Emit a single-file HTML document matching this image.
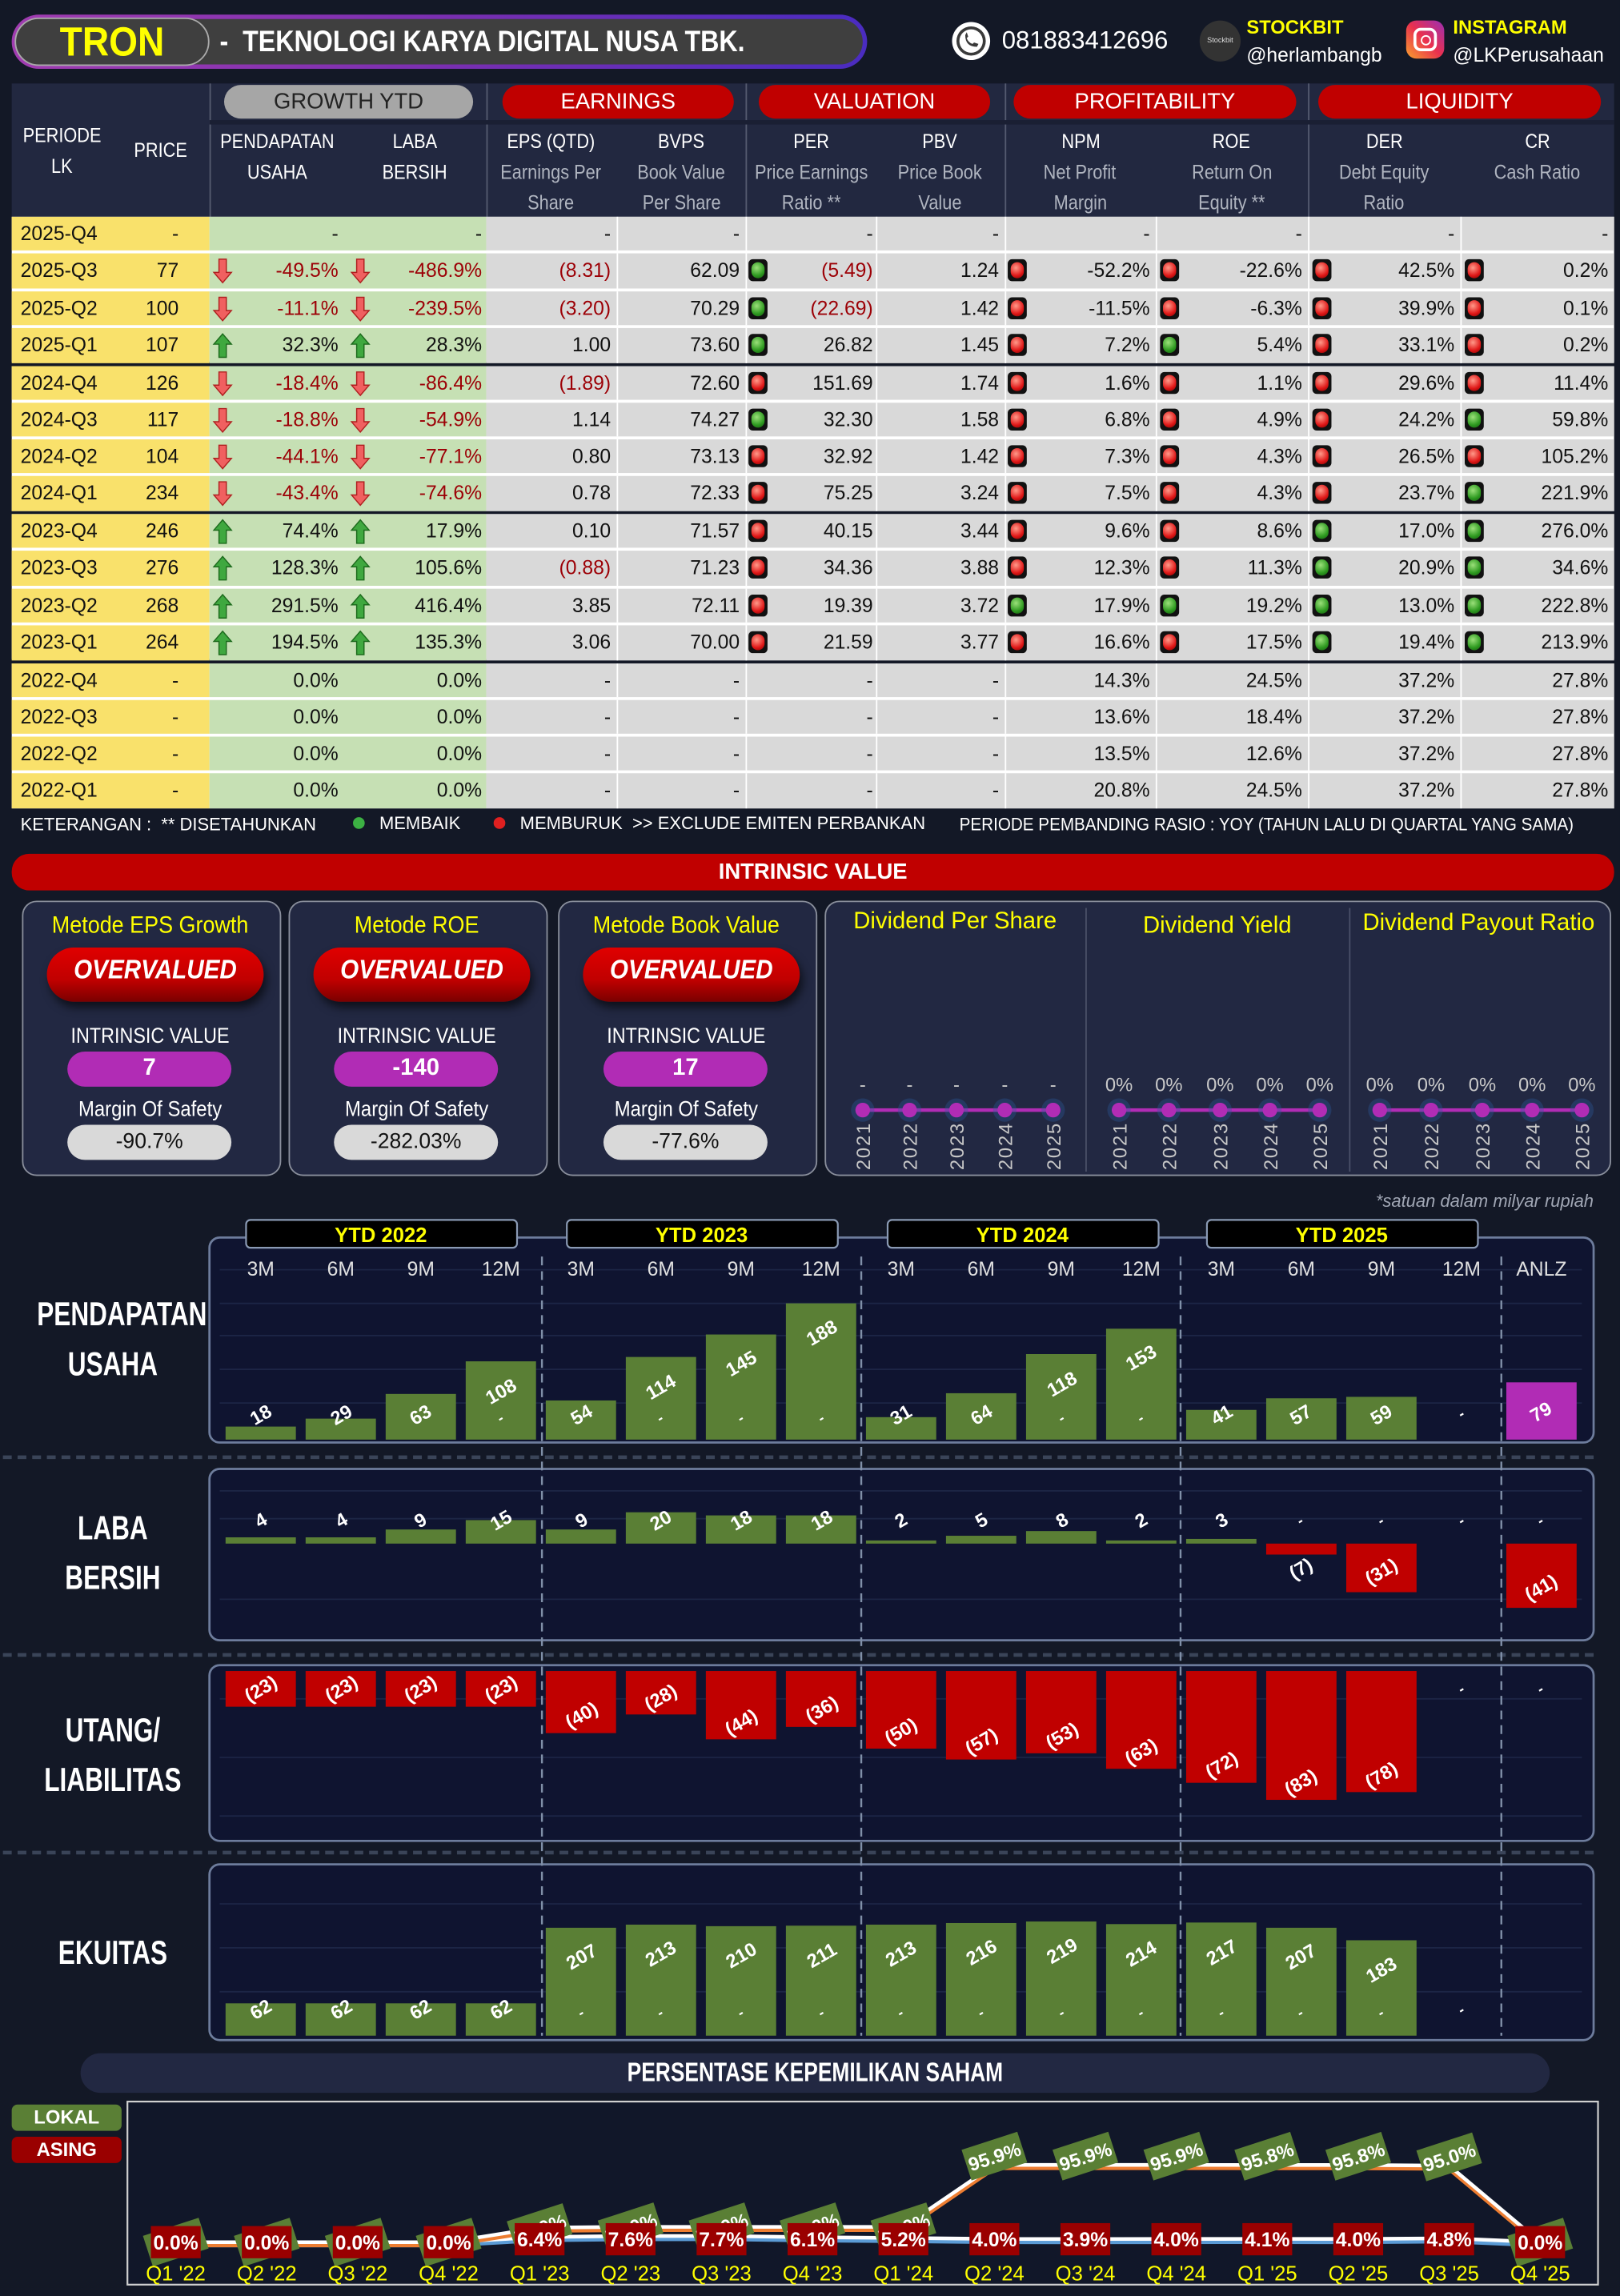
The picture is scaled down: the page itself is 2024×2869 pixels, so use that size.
<!DOCTYPE html>
<html><head><meta charset="utf-8">
<style>
html,body{margin:0;padding:0;background:#131826;overflow:hidden;width:2024px;height:2869px}
#w{position:absolute;left:0;top:0;width:1106px;height:1568px;transform:scale(1.83);transform-origin:0 0;background:#131826;font-family:"Liberation Sans Narrow","Liberation Sans",sans-serif;color:#fff}
.a{position:absolute}
.c{text-align:center}
.pill{position:absolute;border-radius:12px;text-align:center;color:#fff}
.cell{position:absolute;font-size:13.5px;line-height:23px;color:#111;white-space:nowrap}
.hd{position:absolute;text-align:center;font-size:13.5px;line-height:21px;color:#fff;white-space:nowrap}
.hd span{display:inline-block;transform:scaleX(0.88)}
.sub{color:#b0b5c0}
.card{position:absolute;border:1.5px solid #8a8f9c;border-radius:10px;background:#222842}
.lbl{position:absolute;font-weight:bold;color:#fff;font-size:13px;transform:translate(-50%,-50%) rotate(-30deg);white-space:nowrap}
.side{position:absolute;font-weight:bold;font-size:23px;line-height:34px;text-align:center;color:#fff;transform:scaleX(0.75);white-space:nowrap}
</style></head><body><div id="w">

<div class="a" style="left:8px;top:10px;width:584px;height:37px;border-radius:19px;background:linear-gradient(90deg,#a03cb0,#7a2fb0,#4a2cc0);"></div>
<div class="a" style="left:11px;top:13px;width:578px;height:31px;border-radius:16px;background:#3f3f3f;"></div>
<div class="a" style="left:10px;top:12px;width:133px;height:33px;border-radius:17px;background:#3f3f3f;border:1.5px solid #aaa;box-sizing:border-box;"></div>
<div class="a c" style="left:10px;top:11px;width:133px;font-size:28px;font-weight:bold;color:#ffff00;line-height:36px;transform:scaleX(0.9)">TRON</div>
<div class="a" style="left:150px;top:14px;font-size:20px;font-weight:bold;line-height:30px;white-space:nowrap;transform:scaleX(0.88);transform-origin:0 0">-&nbsp; TEKNOLOGI KARYA DIGITAL NUSA TBK.</div>

<svg class="a" style="left:648px;top:13px" width="30" height="30"><circle cx="15" cy="15" r="13" fill="#fff"/><circle cx="15" cy="15" r="10" fill="#3a3a3a"/><circle cx="15" cy="15" r="8" fill="#fff"/><path d="M11 11 q0 8 8 8 l1-2 -3-1 -1 1 q-3-1-4-4 l1-1 -1-3z" fill="#3a3a3a"/></svg>
<div class="a" style="left:684px;top:17px;font-size:17px;line-height:22px;font-family:'Liberation Sans',sans-serif;">081883412696</div>
<div class="a" style="left:819px;top:14px;width:28px;height:28px;border-radius:14px;background:#333;font-size:5px;line-height:28px;text-align:center;color:#ddd">Stockbit</div>
<div class="a" style="left:851px;top:10px;font-size:13px;font-weight:bold;color:#ffff00;line-height:17px">STOCKBIT</div>
<div class="a" style="left:851px;top:29px;font-size:13.5px;line-height:17px">@herlambangb</div>
<div class="a" style="left:960px;top:14px;width:26px;height:26px;border-radius:7px;background:linear-gradient(45deg,#f9a12e,#e9304f,#9b2fb5)"></div>
<div class="a" style="left:965px;top:19px;width:12px;height:12px;border:2px solid #fff;border-radius:5px"></div>
<div class="a" style="left:969.5px;top:23.5px;width:5px;height:5px;border:1.5px solid #fff;border-radius:4px"></div>
<div class="a" style="left:992px;top:10px;font-size:13px;font-weight:bold;color:#ffff00;line-height:17px">INSTAGRAM</div>
<div class="a" style="left:992px;top:29px;font-size:13.5px;line-height:17px">@LKPerusahaan</div>

<div class="a" style="left:8px;top:57px;width:1094px;height:91px;background:#222840"></div>
<div class="a" style="left:143px;top:57px;width:1px;height:91px;background:#555b70"></div>
<div class="a" style="left:332px;top:57px;width:1px;height:91px;background:#555b70"></div>
<div class="a" style="left:509px;top:57px;width:1px;height:91px;background:#555b70"></div>
<div class="a" style="left:686px;top:57px;width:1px;height:91px;background:#555b70"></div>
<div class="a" style="left:893px;top:57px;width:1px;height:91px;background:#555b70"></div>
<div class="a" style="left:143px;top:82px;width:959px;height:3px;background:#1a1f33"></div>
<div class="pill" style="left:153px;top:58px;width:170px;height:23px;background:#a6a6a6;color:#222;font-size:15px;line-height:23px">GROWTH YTD</div>
<div class="pill" style="left:343px;top:58px;width:158px;height:23px;background:#c00000;font-size:15px;line-height:23px">EARNINGS</div>
<div class="pill" style="left:518px;top:58px;width:158px;height:23px;background:#c00000;font-size:15px;line-height:23px">VALUATION</div>
<div class="pill" style="left:692px;top:58px;width:193px;height:23px;background:#c00000;font-size:15px;line-height:23px">PROFITABILITY</div>
<div class="pill" style="left:900px;top:58px;width:193px;height:23px;background:#c00000;font-size:15px;line-height:23px">LIQUIDITY</div>
<div class="hd" style="left:8px;top:82px;width:68px"><span>PERIODE</span><br><span>LK</span></div>
<div class="hd" style="left:76px;top:92px;width:68px"><span>PRICE</span></div>
<div id="hdrs"></div>

<div id="tbl"></div>

<div class="a" style="left:14px;top:554px;font-size:12px;line-height:18px;white-space:nowrap">KETERANGAN : &nbsp;** DISETAHUNKAN</div>
<div class="a" style="left:241px;top:558px;width:8px;height:8px;border-radius:4px;background:#3cb043"></div>
<div class="a" style="left:259px;top:553px;font-size:12px;line-height:18px">MEMBAIK</div>
<div class="a" style="left:337px;top:558px;width:8px;height:8px;border-radius:4px;background:#e02020"></div>
<div class="a" style="left:355px;top:553px;font-size:12px;line-height:18px;white-space:nowrap">MEMBURUK &nbsp;&gt;&gt; EXCLUDE EMITEN PERBANKAN</div>
<div class="a" style="left:655px;top:554px;font-size:12px;line-height:18px;white-space:nowrap;transform:scaleX(0.94);transform-origin:0 0">PERIODE PEMBANDING RASIO : YOY (TAHUN LALU DI QUARTAL YANG SAMA)</div>

<div class="pill" style="left:8px;top:583px;width:1094px;height:25px;background:#c00000;font-weight:bold;font-size:15px;line-height:25px">INTRINSIC VALUE</div>
<div id="cards"></div>

<div class="card" style="left:563px;top:615px;width:535px;height:186px"></div>
<div class="a" style="left:741px;top:620px;width:1px;height:180px;background:#4a5068"></div>
<div class="a" style="left:921px;top:620px;width:1px;height:180px;background:#4a5068"></div>
<div class="a c" style="left:563px;top:620px;width:178px;color:#ffff00;font-size:16px;line-height:20px">Dividend Per Share</div>
<div class="a c" style="left:741px;top:623px;width:180px;color:#ffff00;font-size:16px;line-height:20px">Dividend Yield</div>
<div class="a c" style="left:921px;top:621px;width:177px;color:#ffff00;font-size:16px;line-height:20px">Dividend Payout Ratio</div>
<svg class="a" id="div" style="left:0;top:0" width="1106" height="820"></svg>

<div class="a" style="left:900px;top:812px;width:188px;text-align:right;font-style:italic;color:#a0a6b4;font-size:12px;line-height:16px">*satuan dalam milyar rupiah</div>

<svg class="a" id="ch" style="left:0;top:0" width="1106" height="1568"></svg>
<div class="side" style="left:8px;top:880px;width:138px">PENDAPATAN<br>USAHA</div>
<div class="side" style="left:8px;top:1026px;width:138px">LABA<br>BERSIH</div>
<div class="side" style="left:8px;top:1164px;width:138px">UTANG/<br>LIABILITAS</div>
<div class="side" style="left:8px;top:1316px;width:138px">EKUITAS</div>
<div id="labels"></div>

<div class="a" style="left:55px;top:1402px;width:1003px;height:27px;border-radius:14px;background:#222842"></div>
<div class="a c" style="left:55px;top:1402px;width:1003px;font-weight:bold;font-size:18px;line-height:27px;transform:scaleX(0.8)">PERSENTASE KEPEMILIKAN SAHAM</div>
<div class="pill" style="left:8px;top:1437px;width:75px;height:18px;border-radius:4px;background:#5a7f35;font-weight:bold;font-size:13px;line-height:18px">LOKAL</div>
<div class="pill" style="left:8px;top:1459px;width:75px;height:18px;border-radius:4px;background:#9a0000;font-weight:bold;font-size:13px;line-height:18px">ASING</div>
<svg class="a" id="own" style="left:0;top:0" width="1106" height="1568"></svg>

</div>
<script>
function el(id,h){document.getElementById(id).insertAdjacentHTML('beforeend',h);}
var hc=[[143,235,'PENDAPATAN','USAHA',''],[235,332,'LABA','BERSIH',''],[332,421,'EPS (QTD)','Earnings Per','Share'],[421,509,'BVPS','Book Value','Per Share'],[509,598,'PER','Price Earnings','Ratio **'],[598,686,'PBV','Price Book','Value'],[686,789,'NPM','Net Profit','Margin'],[789,893,'ROE','Return On','Equity **'],[893,997,'DER','Debt Equity','Ratio'],[997,1102,'CR','Cash Ratio','']];
var h='';
hc.forEach(function(c,i){
 if(i<2){h+='<div class="hd" style="left:'+c[0]+'px;top:86px;width:'+(c[1]-c[0])+'px"><span>'+c[2]+'</span><br><span>'+c[3]+'</span></div>';}
 else{h+='<div class="hd" style="left:'+c[0]+'px;top:86px;width:'+(c[1]-c[0])+'px"><span>'+c[2]+'</span><br><span class="sub">'+c[3]+'</span><br><span class="sub">'+c[4]+'</span></div>';}
});
el('hdrs',h);
var R=[
['2025-Q4','-','-','-','-','-','','-','-','','-','','-','','-','','-'],
['2025-Q3','77','-49.5%','-486.9%','(8.31)','62.09','g','(5.49)','1.24','r','-52.2%','r','-22.6%','r','42.5%','r','0.2%'],
['2025-Q2','100','-11.1%','-239.5%','(3.20)','70.29','g','(22.69)','1.42','r','-11.5%','r','-6.3%','r','39.9%','r','0.1%'],
['2025-Q1','107','32.3%','28.3%','1.00','73.60','g','26.82','1.45','r','7.2%','g','5.4%','r','33.1%','r','0.2%'],
['2024-Q4','126','-18.4%','-86.4%','(1.89)','72.60','r','151.69','1.74','r','1.6%','r','1.1%','r','29.6%','r','11.4%'],
['2024-Q3','117','-18.8%','-54.9%','1.14','74.27','g','32.30','1.58','r','6.8%','r','4.9%','r','24.2%','g','59.8%'],
['2024-Q2','104','-44.1%','-77.1%','0.80','73.13','r','32.92','1.42','r','7.3%','r','4.3%','r','26.5%','r','105.2%'],
['2024-Q1','234','-43.4%','-74.6%','0.78','72.33','r','75.25','3.24','r','7.5%','r','4.3%','r','23.7%','g','221.9%'],
['2023-Q4','246','74.4%','17.9%','0.10','71.57','r','40.15','3.44','r','9.6%','r','8.6%','g','17.0%','g','276.0%'],
['2023-Q3','276','128.3%','105.6%','(0.88)','71.23','r','34.36','3.88','r','12.3%','r','11.3%','g','20.9%','g','34.6%'],
['2023-Q2','268','291.5%','416.4%','3.85','72.11','r','19.39','3.72','g','17.9%','g','19.2%','g','13.0%','g','222.8%'],
['2023-Q1','264','194.5%','135.3%','3.06','70.00','r','21.59','3.77','r','16.6%','r','17.5%','g','19.4%','g','213.9%'],
['2022-Q4','-','0.0%','0.0%','-','-','','-','-','','14.3%','','24.5%','','37.2%','','27.8%'],
['2022-Q3','-','0.0%','0.0%','-','-','','-','-','','13.6%','','18.4%','','37.2%','','27.8%'],
['2022-Q2','-','0.0%','0.0%','-','-','','-','-','','13.5%','','12.6%','','37.2%','','27.8%'],
['2022-Q1','-','0.0%','0.0%','-','-','','-','-','','20.8%','','24.5%','','37.2%','','27.8%']];
var t='';
for(var g=0;g<4;g++){t+='<div class="a" style="left:8px;top:'+(148+g*101.5)+'px;width:1094px;height:99px;background:#fff"></div>';}
function dot(x,y,c){var col=c=='g'?'radial-gradient(circle at 40% 35%,#9be07a,#2e9a20 60%,#145a10)':'radial-gradient(circle at 40% 35%,#ff9a8a,#e01818 60%,#7a0000)';
 return '<div class="a" style="left:'+x+'px;top:'+(y+4)+'px;width:13px;height:15px;border-radius:3px;background:#111"></div><div class="a" style="left:'+(x+2)+'px;top:'+(y+6)+'px;width:9px;height:11px;border-radius:5px;background:'+col+'"></div>';}
function arrow(x,y,up){var c=up?'#3fa83f':'#f06060',s=up?'#1d6b1d':'#b02020';
 var p=up?'M7 1 L13 8 L9.5 8 L9.5 17 L4.5 17 L4.5 8 L1 8Z':'M4.5 1 L9.5 1 L9.5 10 L13 10 L7 17 L1 10 L4.5 10Z';
 return '<svg class="a" style="left:'+x+'px;top:'+(y+3)+'px" width="14" height="18"><path d="'+p+'" fill="'+c+'" stroke="'+s+'" stroke-width="0.8"/></svg>';}
R.forEach(function(r,i){
 var g=Math.floor(i/4),k=i%4,y=148+g*101.5+k*25.3,hh=(k==3)?23.8:23.3;
 t+='<div class="a" style="left:8px;top:'+y+'px;width:135px;height:'+hh+'px;background:#f9e16b"></div>';
 t+='<div class="a" style="left:143px;top:'+y+'px;width:189px;height:'+hh+'px;background:#c6e0b4"></div>';
 t+='<div class="a" style="left:332px;top:'+y+'px;width:770px;height:'+hh+'px;background:#d9d9d9"></div>';
 [421,509,598,686,789,893,997].forEach(function(x){t+='<div class="a" style="left:'+x+'px;top:'+y+'px;width:1px;height:'+hh+'px;background:#fff"></div>';});
 t+='<div class="cell" style="left:14px;top:'+y+'px">'+r[0]+'</div>';
 t+='<div class="cell" style="left:76px;top:'+y+'px;width:46px;text-align:right">'+r[1]+'</div>';
 function num(x1,x2,v,red){var col=red?'#9c0006':'#111';return '<div class="cell" style="left:'+x1+'px;top:'+y+'px;width:'+(x2-x1)+'px;text-align:right;color:'+col+'">'+v+'</div>';}
 var neg2=r[2].charAt(0)=='-'&&r[2].length>1, neg3=r[3].charAt(0)=='-'&&r[3].length>1;
 t+=num(143,231,r[2],neg2); t+=num(235,329,r[3],neg3);
 if(i>0&&i<12){t+=arrow(145,y,!neg2);t+=arrow(239,y,!neg3);}
 t+=num(332,417,r[4],r[4].charAt(0)=='('); t+=num(421,505,r[5]);
 t+=num(509,596,r[7],r[7].charAt(0)=='('); t+=num(598,682,r[8]);
 t+=num(686,785,r[10]); t+=num(789,889,r[12]); t+=num(893,993,r[14]); t+=num(997,1098,r[16]);
 if(r[6])t+=dot(511,y,r[6]); if(r[9])t+=dot(688,y,r[9]); if(r[11])t+=dot(792,y,r[11]); if(r[13])t+=dot(896,y,r[13]); if(r[15])t+=dot(1000,y,r[15]);
});
el('tbl',t);
var C=[[15,'Metode EPS Growth','7','-90.7%'],[197,'Metode ROE','-140','-282.03%'],[381,'Metode Book Value','17','-77.6%']];
var c='';
C.forEach(function(d){var x=d[0],w=175;
 c+='<div class="card" style="left:'+x+'px;top:615px;width:'+w+'px;height:186px"></div>';
 c+='<div class="a c" style="left:'+x+'px;top:623px;width:'+w+'px;color:#ffff00;font-size:16px;line-height:20px;transform:scaleX(0.92)">'+d[1]+'</div>';
 c+='<div class="a" style="left:'+(x+17)+'px;top:647px;width:148px;height:37px;border-radius:19px;background:linear-gradient(180deg,#e00000,#c00000 60%,#7a0000);box-shadow:2px 4px 6px rgba(0,0,0,.6)"></div>';
 c+='<div class="a c" style="left:'+(x+17)+'px;top:647px;width:148px;font-style:italic;font-weight:bold;font-size:18px;line-height:30px;transform:scaleX(0.9)">OVERVALUED</div>';
 c+='<div class="a c" style="left:'+x+'px;top:699px;width:'+w+'px;font-size:14.5px;line-height:18px;transform:scaleX(0.88)">INTRINSIC VALUE</div>';
 c+='<div class="pill" style="left:'+(x+31)+'px;top:718px;width:112px;height:24px;background:#b12cb5;font-weight:bold;font-size:16px;line-height:24px">'+d[2]+'</div>';
 c+='<div class="a c" style="left:'+x+'px;top:749px;width:'+w+'px;font-size:14.5px;line-height:18px;transform:scaleX(0.9)">Margin Of Safety</div>';
 c+='<div class="pill" style="left:'+(x+31)+'px;top:768px;width:112px;height:24px;background:#d9d9d9;color:#111;font-size:14.5px;line-height:24px">'+d[3]+'</div>';
});
el('cards',c);
var dv='',P=[[589,621,653,686,719],[764,798,833,867,901],[942,977,1012,1046,1080]];
P.forEach(function(xs,pi){
 dv+='<line x1="'+xs[0]+'" y1="758" x2="'+xs[4]+'" y2="758" stroke="#b12cb5" stroke-width="2.5"/>';
 xs.forEach(function(x,j){
  dv+='<circle cx="'+x+'" cy="758" r="8" fill="#2a5a9a" opacity="0.35"/><circle cx="'+x+'" cy="758" r="5" fill="#b12cb5"/>';
  dv+='<text x="'+x+'" y="745" fill="#c8c8c8" font-size="13" text-anchor="middle" font-family="Liberation Sans Narrow,Liberation Sans,sans-serif">'+(pi==0?'-':'0%')+'</text>';
  dv+='<text transform="translate('+(x+5)+',799) rotate(-90)" fill="#c8c8c8" font-size="13" font-family="Liberation Sans,sans-serif" letter-spacing="1">'+(2021+j)+'</text>';
 });
});
el('div',dv);
var s='';
var boxes=[[845,985],[1003,1120],[1137,1257],[1273,1393]];
boxes.forEach(function(b){s+='<rect x="143" y="'+b[0]+'" width="945" height="'+(b[1]-b[0])+'" rx="7" fill="#0f1430" stroke="#6d7c9c" stroke-width="1.5"/>';});
[995,1130,1265].forEach(function(y){s+='<line x1="2" y1="'+y+'" x2="1090" y2="'+y+'" stroke="#3a4458" stroke-width="2.5" stroke-dasharray="6,4"/>';});
[[867,890,912,935,958],[1018,1037,1092],[1160,1200,1240],[1300,1330,1360]].forEach(function(a){a.forEach(function(y){s+='<line x1="150" y1="'+y+'" x2="1080" y2="'+y+'" stroke="#1c2545" stroke-width="1"/>';});});
[370,588,806,1025].forEach(function(x){s+='<line x1="'+x+'" y1="858" x2="'+x+'" y2="1390" stroke="#8090a8" stroke-width="1.3" stroke-dasharray="6,4"/>';});
var Y=[[168,'YTD 2022'],[387,'YTD 2023'],[606,'YTD 2024'],[824,'YTD 2025']];
Y.forEach(function(d){s+='<rect x="'+d[0]+'" y="833" width="185" height="19" rx="3" fill="#000" stroke="#8a9ab4" stroke-width="1.2"/><text x="'+(d[0]+92)+'" y="848" fill="#ffff00" font-weight="bold" font-size="14" text-anchor="middle" font-family="Liberation Sans Narrow,Liberation Sans,sans-serif">'+d[1]+'</text>';});
var M=['3M','6M','9M','12M'];
function cx(i){return 178+54.65*i;}
for(var i=0;i<17;i++){s+='<text x="'+cx(i)+'" y="871" fill="#e0e0e0" font-size="13.5" text-anchor="middle" font-family="Liberation Sans Narrow,Liberation Sans,sans-serif">'+(i<16?M[i%4]:'ANLZ')+'</text>';}
var L='';
function lab(x,y,v){L+='<div class="lbl" style="left:'+x+'px;top:'+y+'px">'+v+'</div>';}
function dash(x,y){L+='<div class="lbl" style="left:'+x+'px;top:'+y+'px;font-size:10px">-</div>';}
var pend=[18,29,63,108,54,114,145,188,31,64,118,153,41,57,59,null,79];
pend.forEach(function(v,i){var x=cx(i);if(v==null){dash(x,966);return;}var hgt=v*0.495,top=983-hgt;
 s+='<rect x="'+(x-24)+'" y="'+top+'" width="48" height="'+hgt+'" fill="'+(i==16?'#b12cb5':'#5a7f35')+'"/>';
 lab(x,Math.min(top+20,966),v); if(hgt>45)dash(x,969);});
var laba=[4,4,9,15,9,20,18,18,2,5,8,2,3,-7,-31,null,-41];
laba.forEach(function(v,i){var x=cx(i);if(v==null){dash(x,1039);return;}var hgt=Math.abs(v)*1.07;
 if(v>0){s+='<rect x="'+(x-24)+'" y="'+(1054-hgt)+'" width="48" height="'+hgt+'" fill="#5a7f35"/>';lab(x,1038,v);}
 else{s+='<rect x="'+(x-24)+'" y="1054" width="48" height="'+hgt+'" fill="#c00000"/>';lab(x,1054+hgt-12>1060?1054+hgt-14:1054+hgt+10,'('+(-v)+')');dash(x,1039);}
});
var ut=[23,23,23,23,40,28,44,36,50,57,53,63,72,83,78,null,null];
ut.forEach(function(v,i){var x=cx(i);if(v==null){dash(x,1154);return;}var hgt=v*1.06;
 s+='<rect x="'+(x-24)+'" y="1141" width="48" height="'+hgt+'" fill="#c00000"/>';lab(x,1141+hgt-12,'('+v+')');});
var ek=[62,62,62,62,207,213,210,211,213,216,219,214,217,207,183,null];
ek.forEach(function(v,i){var x=cx(i);if(v==null){dash(x,1373);return;}var hgt=v*0.356,top=1390-hgt;
 s+='<rect x="'+(x-24)+'" y="'+top+'" width="48" height="'+hgt+'" fill="#5a7f35"/>';lab(x,Math.min(top+20,1372),v);if(hgt>45)dash(x,1375);});
el('ch',s);el('labels',L);
var o='<rect x="87" y="1435" width="1004" height="125" fill="#111729" stroke="#d0d0d0" stroke-width="1.2"/>';
var lok=[0,0,0,0,18,19,19,19,19,95.9,95.9,95.9,95.8,95.8,95.0,0];
var as=[0,0,0,0,6.4,7.6,7.7,6.1,5.2,4.0,3.9,4.0,4.1,4.0,4.8,0.0];
var q=["Q1 '22","Q2 '22","Q3 '22","Q4 '22","Q1 '23","Q2 '23","Q3 '23","Q4 '23","Q1 '24","Q2 '24","Q3 '24","Q4 '24","Q1 '25","Q2 '25","Q3 '25","Q4 '25"];
function ox(i){return 120+62.1*i;}
function oy(v){return 1531-v*0.55;}
var pl='',pa='';
for(var i=0;i<16;i++){pl+=ox(i)+','+oy(lok[i])+' ';pa+=ox(i)+','+oy(as[i])+' ';}
o+='<polyline points="'+pa+'" fill="none" stroke="#5b9bd5" stroke-width="4" transform="translate(0,1.5)"/><polyline points="'+pa+'" fill="none" stroke="#fff" stroke-width="2.5"/>';
o+='<polyline points="'+pl+'" fill="none" stroke="#ed7d31" stroke-width="4" transform="translate(0,1.5)"/><polyline points="'+pl+'" fill="none" stroke="#fff" stroke-width="2.5"/>';
var F='font-family="Liberation Sans Narrow,Liberation Sans,sans-serif"';
for(var i=0;i<16;i++){var x=ox(i);
 var ly=oy(lok[i])-(lok[i]>50?6:0);
 o+='<g transform="translate('+x+','+ly+') rotate(-18)"><rect x="-20" y="-11" width="40" height="22" fill="#5a7f35"/><text x="0" y="5" fill="#fff" font-weight="bold" font-size="13" text-anchor="middle" '+F+'>'+lok[i].toFixed(1)+'%</text></g>';
}
for(var i=0;i<16;i++){var x=ox(i),ay=i<4||i==15?1531:1529;
 o+='<rect x="'+(x-17)+'" y="'+(ay-11)+'" width="34" height="22" fill="#9a0000"/><text x="'+x+'" y="'+(ay+5)+'" fill="#fff" font-weight="bold" font-size="13.5" text-anchor="middle" '+F+'>'+as[i].toFixed(1)+'%</text>';
 o+='<text x="'+x+'" y="1557" fill="#ffff00" font-size="14" text-anchor="middle" '+F+'>'+q[i]+'</text>';
}
el('own',o);
</script>
</body></html>
